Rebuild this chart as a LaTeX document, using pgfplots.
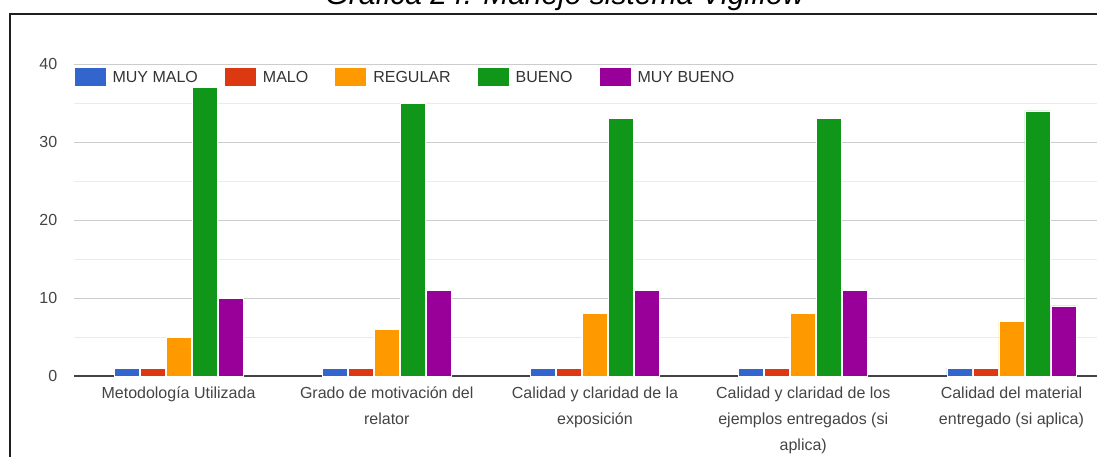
\documentclass[border=0pt]{standalone}
\usepackage{pgfplots}
\pgfplotsset{compat=1.18}
\usepackage{pgfplotstable}
\usepackage{fontspec}
\setmainfont{Liberation Sans}
\definecolor{cblue}{HTML}{3366CC}
\definecolor{cred}{HTML}{DC3912}
\definecolor{corange}{HTML}{FF9900}
\definecolor{cgreen}{HTML}{109618}
\definecolor{cpurple}{HTML}{990099}
\definecolor{ticktext}{HTML}{444444}
\definecolor{legtext}{HTML}{333333}
\definecolor{gmaj}{HTML}{CCCCCC}
\definecolor{gmin}{HTML}{EBEBEB}
\definecolor{axline}{HTML}{444444}
\pgfplotstableread{
x mm m r b mb
0 1 1 5 37 10
1 1 1 6 35 11
2 1 1 8 33 11
3 1 1 8 33 11
4 1 1 7 34 9
}\datatable
\begin{document}
\begin{tikzpicture}
\useasboundingbox (0pt,0pt) rectangle (1097pt,-456pt);
\node[anchor=base, font=\fontsize{30}{36}\selectfont\itshape, text=black] at (565pt,-4pt) {Gráfica 24. Manejo sistema Vigiflow};
\draw[line width=2pt, color=black!88] (10pt,-480pt) -- (10pt,-13.7pt) -- (1120pt,-13.7pt);
\begin{axis}[
  at={(74.4pt,-376pt)}, anchor=south west,
  scale only axis, width=1041.25pt, height=312pt,
  xmin=-0.5, xmax=4.5, ymin=0, ymax=40,
  ybar, bar width=25pt,
  xtick={0,1,2,3,4},
  xticklabels={{Metodología Utilizada},{Grado de motivación del\\relator},{Calidad y claridad de la\\exposición},{Calidad y claridad de los\\ejemplos entregados (si\\aplica)},{Calidad del material\\entregado (si aplica)}},
  ytick={0,10,20,30,40}, minor ytick={5,15,25,35},
  ymajorgrids, yminorgrids,
  major grid style={draw=gmaj, line width=1pt},
  minor grid style={draw=gmin, line width=1pt},
  major tick length=0pt, minor tick length=0pt,
  axis x line*=bottom, axis y line*=left,
  x axis line style={draw=axline, line width=1.8pt, -},
  y axis line style={draw=none},
  /pgf/number format/assume math mode=true,
  tick label style={font=\fontsize{16}{26}\selectfont, text=ticktext},
  xticklabel style={align=center, anchor=north, inner sep=0pt, yshift=-10.5pt},
  yticklabel style={anchor=east, inner sep=0pt, xshift=-17pt},
  legend columns=5,
  legend style={at={(0,0.987)}, anchor=north west, draw=none, fill=none,
    font=\fontsize{16}{19}\selectfont, text=legtext, inner sep=0pt,
    /tikz/every even column/.append style={column sep=25pt},
    /tikz/every odd column/.append style={column sep=5pt}},
  legend image code/.code={\draw[#1, draw=none] (0pt,-9pt) rectangle (31pt,9pt);},
  every axis plot/.append style={draw=white, line width=0.6pt},
]
\addplot[fill=cblue, bar shift=-52pt] table[x=x, y=mm]{\datatable};
\addplot[fill=cred, bar shift=-26pt] table[x=x, y=m]{\datatable};
\addplot[fill=corange, bar shift=0pt] table[x=x, y=r]{\datatable};
\addplot[fill=cgreen, bar shift=26pt] table[x=x, y=b]{\datatable};
\addplot[fill=cpurple, bar shift=52pt] table[x=x, y=mb]{\datatable};
\legend{MUY MALO, MALO, REGULAR, BUENO, MUY BUENO}
\end{axis}
\end{tikzpicture}
\end{document}
